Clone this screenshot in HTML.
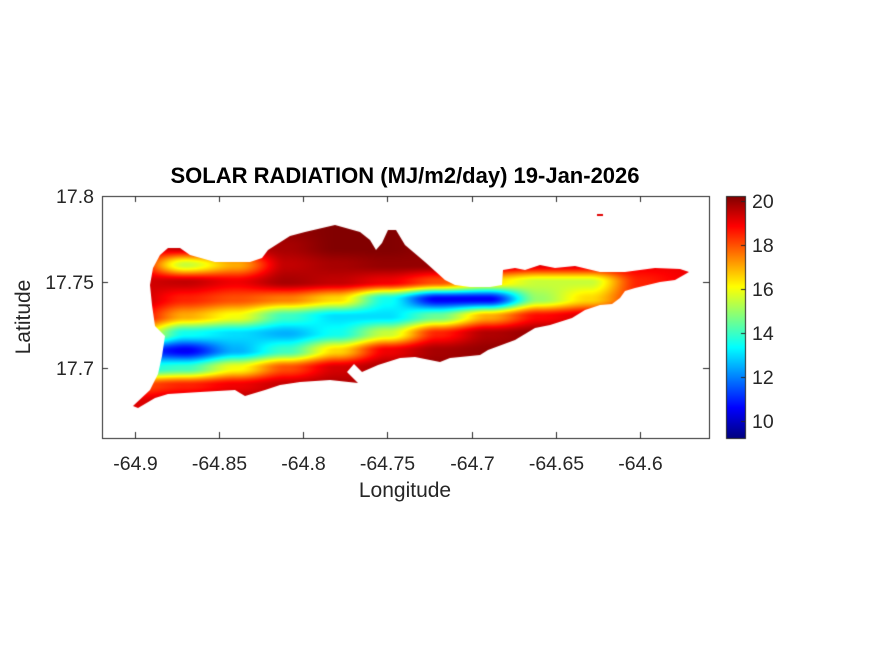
<!DOCTYPE html>
<html><head><meta charset="utf-8">
<style>
html,body{margin:0;padding:0;background:#fff;}
#wrap{position:relative;width:875px;height:656px;font-family:"Liberation Sans",Arial,sans-serif;color:#262626;}
canvas{position:absolute;left:0;top:0;}
.t{position:absolute;white-space:nowrap;}
</style></head>
<body>
<div id="wrap">
<canvas id="cv" width="875" height="656"></canvas>
<div class="t" style="left:0;width:810px;text-align:center;top:163px;font-weight:bold;font-size:22px;color:#000">SOLAR RADIATION (MJ/m2/day) 19-Jan-2026</div>
<div class="t" style="left:305px;width:200px;text-align:center;top:479px;font-size:21px">Longitude</div>
<div class="t" style="left:-14px;top:305px;font-size:21px;transform:rotate(-90deg);transform-origin:center;width:76px;text-align:center">Latitude</div>
<div id="labels"></div>
</div>
<script>
const lonTicks=[-64.9,-64.85,-64.8,-64.75,-64.7,-64.65,-64.6];
const lonTickLabels=["-64.9","-64.85","-64.8","-64.75","-64.7","-64.65","-64.6"];
const latTicks=[17.7,17.75,17.8];
const latTickLabels=["17.7","17.75","17.8"];
const cbTicks=[10,12,14,16,18,20];
const gridLon=[-64.90,-64.87,-64.84,-64.81,-64.78,-64.75,-64.72,-64.69,-64.66,-64.63,-64.60,-64.57];
const gridLat=[17.78,17.77,17.76,17.75,17.74,17.73,17.72,17.71,17.70,17.69,17.68];
const row0=[19.5,19.5,19.5,20,20.2,20.2,20,19.5,19.2,19.2,19,19];
const row1=[19,19.5,19.5,19.8,20.2,20.2,20,19.5,19.2,19.2,19,19];
const row2=[19,15.5,17,19.5,19.8,20,20,19.5,19.2,19.2,19,19];
const row3=[19.3,19.5,19,19.8,19.5,19,18,16.5,15.5,15.5,18.5,19];
const row4=[19.5,18.5,18,17.5,16.5,13.5,10.5,10.5,15,16.5,18.5,19];
const row5=[19,17,16,14,13,13,14.5,17,18.8,19.3,19.5,19.5];
const row6=[17,13.5,13,12.5,13.5,15.5,18.5,19.7,20,19.7,19.5,19.5];
const row7=[11.5,10.5,12.5,14,16.5,19,19.8,20,20,19.7,19.5,19.5];
const row8=[13.5,14,16,18,19.3,19.8,20,20,19.7,19.5,19.5,19.5];
const row9=[18,18.5,19,19.5,19.7,19.7,19.7,19.7,19.5,19.5,19.5,19.5];
const row10=[19.2,19.7,19.8,19.8,19.8,19.7,19.7,19.5,19.5,19.5,19.5,19.5];
const values=[row0,row1,row2,row3,row4,row5,row6,row7,row8,row9,row10];
const cmin=9.22,cmax=20.23;

const AX={l:102,t:196,r:709,b:438};
const xS=lon=>135+(lon+64.9)*1683;
const yS=lat=>196+(17.8-lat)*1720;
const xInv=px=>(px-135)/1683-64.9;
const yInv=py=>17.8-(py-196)/1720;
const CB={l:726,r:745,t:196,b:438};
const cS=v=>CB.b-(v-cmin)/(cmax-cmin)*(CB.b-CB.t);
function jet(t){t=Math.max(0,Math.min(1,t));const c=x=>Math.round(255*Math.max(0,Math.min(1,1.5-Math.abs(x))));return [c(4*t-3),c(4*t-2),c(4*t-1)];}
function field(lon,lat){
  let fi=(lon-gridLon[0])/(gridLon[1]-gridLon[0]);
  let fj=(gridLat[0]-lat)/(gridLat[0]-gridLat[1]);
  fi=Math.max(0,Math.min(gridLon.length-1.0001,fi));fj=Math.max(0,Math.min(gridLat.length-1.0001,fj));
  const i=Math.floor(fi),j=Math.floor(fj),a=fi-i,b=fj-j;
  const s=a*a*(3-2*a),u=b*b*(3-2*b);
  return (values[j][i]*(1-s)+values[j][i+1]*s)*(1-u)+(values[j+1][i]*(1-s)+values[j+1][i+1]*s)*u;
}
const outline=[[133,406],[150,390],[158,374],[162,356],[165,336],[155,326],[152,305],[150,285],[153,268],[160,255],[168,248],[180,248],[190,255],[215,262],[250,262],[262,258],[268,250],[290,236],[305,232],[335,225],[360,232],[370,240],[376,250],[382,243],[388,230],[396,230],[405,245],[425,262],[445,280],[455,285],[470,287],[490,287],[502,285],[503,270],[515,268],[525,270],[540,265],[555,268],[575,266],[600,272],[625,272],[655,268],[680,269],[689,272],[675,280],[660,282],[635,288],[625,291],[620,298],[612,304],[600,305],[585,310],[572,318],[550,325],[535,328],[515,340],[488,350],[480,355],[450,358],[440,362],[415,357],[400,358],[378,365],[362,372],[354,364],[347,372],[358,383],[330,380],[300,382],[280,385],[265,390],[245,396],[235,390],[200,392],[168,394],[155,398],[138,408]];

const cv=document.getElementById('cv'),ctx=cv.getContext('2d');
ctx.fillStyle='#fff';ctx.fillRect(0,0,875,656);
const W=AX.r-AX.l,H=AX.b-AX.t;
const off=document.createElement('canvas');off.width=W;off.height=H;
const oc=off.getContext('2d');const img=oc.createImageData(W,H);
for(let y=0;y<H;y++)for(let x=0;x<W;x++){
  const v=field(xInv(AX.l+x+0.5),yInv(AX.t+y+0.5));
  const c=jet((v-cmin)/(cmax-cmin));const k=(y*W+x)*4;
  img.data[k]=c[0];img.data[k+1]=c[1];img.data[k+2]=c[2];img.data[k+3]=255;}
oc.putImageData(img,0,0);
ctx.save();ctx.beginPath();outline.forEach((p,i)=>i?ctx.lineTo(p[0],p[1]):ctx.moveTo(p[0],p[1]));ctx.closePath();
ctx.rect(597,214,6,2);
ctx.clip();ctx.drawImage(off,AX.l,AX.t);ctx.restore();

ctx.strokeStyle='#262626';ctx.lineWidth=1;
ctx.strokeRect(AX.l+0.5,AX.t+0.5,W,H);
const lab=document.getElementById('labels');
function addLabel(txt,x,y,align,name){const d=document.createElement('div');d.className='t';d.textContent=txt;
 d.style.fontSize='19.5px';d.style.top=(y-11)+'px';
 if(align==='c'){d.style.left=(x-50)+'px';d.style.width='100px';d.style.textAlign='center';}
 else if(align==='r'){d.style.left=(x-80)+'px';d.style.width='80px';d.style.textAlign='right';}
 else d.style.left=x+'px';
 
 
 lab.appendChild(d);}
lonTicks.forEach((v,i)=>{const x=Math.round(xS(v))+0.5;ctx.beginPath();ctx.moveTo(x,AX.b);ctx.lineTo(x,AX.b-6);ctx.moveTo(x,AX.t);ctx.lineTo(x,AX.t+6);ctx.stroke();addLabel(lonTickLabels[i],x,AX.b+26,'c','x-tick-label');});
latTicks.forEach((v,i)=>{const y=Math.round(yS(v))+0.5;ctx.beginPath();ctx.moveTo(AX.l,y);ctx.lineTo(AX.l+6,y);ctx.moveTo(AX.r,y);ctx.lineTo(AX.r-6,y);ctx.stroke();addLabel(latTickLabels[i],AX.l-8,y,'r','y-tick-label');});
for(let y=CB.t;y<CB.b;y++){const v=cmax-(y-CB.t+0.5)/(CB.b-CB.t)*(cmax-cmin);const c=jet((v-cmin)/(cmax-cmin));ctx.fillStyle='rgb('+c.join(',')+')';ctx.fillRect(CB.l,y,CB.r-CB.l,1);}
ctx.strokeRect(CB.l+0.5,CB.t+0.5,CB.r-CB.l,CB.b-CB.t);
cbTicks.forEach(v=>{const y=Math.round(cS(v))+0.5;ctx.beginPath();ctx.moveTo(CB.r,y);ctx.lineTo(CB.r-4,y);ctx.stroke();addLabel(String(v),CB.r+7,y,'l','colorbar-tick-label');});
</script>
</body></html>
